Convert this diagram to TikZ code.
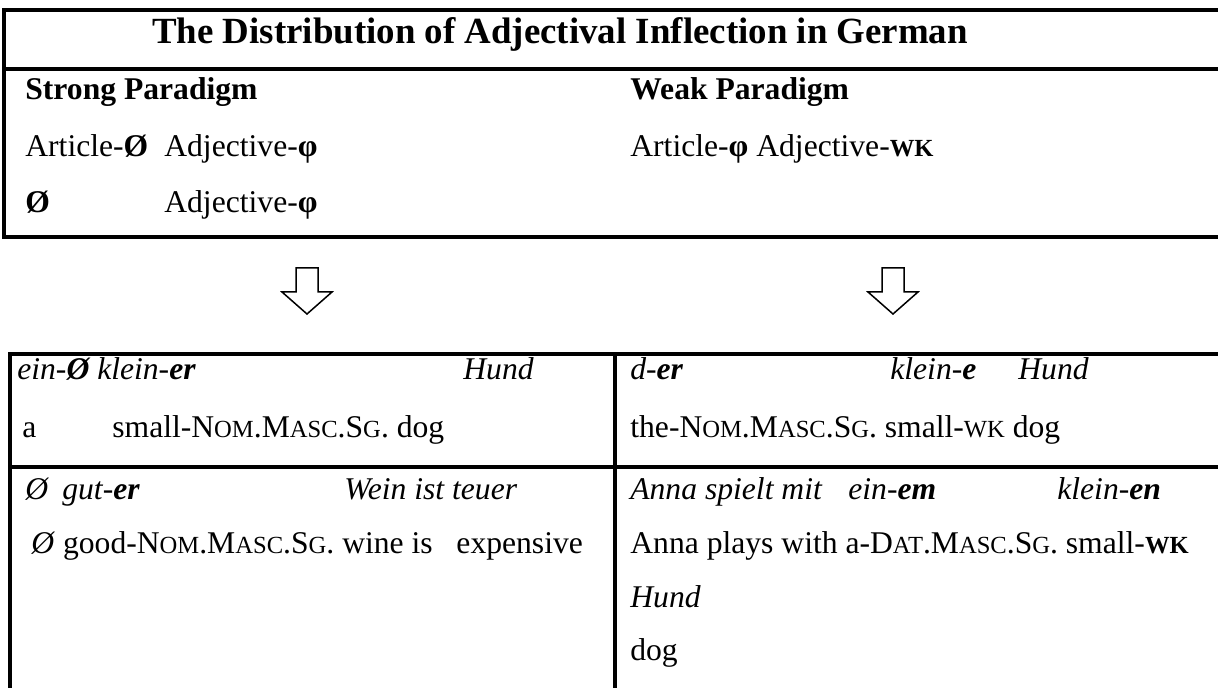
\documentclass[tikz,border=0pt]{standalone}
\usepackage{fontspec}
\setmainfont{Liberation Serif}
\newcommand{\smc}[1]{{\fontsize{14}{16}\selectfont #1}}
\begin{document}
\fontsize{18}{22}\selectfont
\begin{tikzpicture}[x=0.02cm,y=-0.02cm,
	cell/.style={anchor=base west,inner sep=0pt},
	rule/.style={line width=0.08cm,line join=miter},
	hollow/.style={line width=0.03cm,line join=miter}]
		% Set up the frame and the block arrows
		\clip (0,0) rectangle (1218,688);
		\newcommand{\blockarrow}[1]{\draw[hollow,shift={(#1,0)}] (-11,268) -- (11,268) -- (11,292) -- (25,292) -- (0,314) -- (-25,292) -- (-11,292) -- cycle;}

		% upper box
		\draw[rule] (1240,10) -- (4,10) -- (4,237) -- (1240,237);
		\draw[rule] (4,69) -- (1240,69);
		\node[anchor=base,inner sep=0pt,font=\fontsize{21}{25}\selectfont\bfseries] (title) at (560,44) {The Distribution of Adjectival Inflection in German};

		\node[cell,font=\bfseries] (strong) at (25,100) {Strong Paradigm};
		\node[cell] (strongart) at (25,157) {Article-\textbf{Ø}};
		\node[cell] (strongadj) at (164,157) {Adjective-\textbf{φ}};
		\node[cell] (nullart) at (25,213) {\textbf{Ø}};
		\node[cell] (nulladj) at (164,213) {Adjective-\textbf{φ}};
		\node[cell,font=\bfseries] (weak) at (630,100) {Weak Paradigm};
		\node[cell] (weakrow) at (630,157) {Article-\textbf{φ} Adjective-\textbf{\smc{WK}}};

		\blockarrow{307}
		\blockarrow{893}

		% lower table
		\draw[rule] (1240,354) -- (10,354) -- (10,700);
		\draw[rule] (10,467) -- (1240,467);
		\draw[rule] (615,354) -- (615,700);

		\node[cell] (exa) at (17,380) {\itshape ein-\textbf{Ø} klein-\textbf{er}};
		\node[cell] (exanoun) at (463,380) {\itshape Hund};
		\node[cell] (glaart) at (22,438) {a};
		\node[cell] (gla) at (112,438) {small-N\smc{OM}.M\smc{ASC}.S\smc{G}. dog};
		\node[cell] (exbnull) at (25,500) {\itshape Ø};
		\node[cell] (exb) at (62,500) {\itshape gut-\textbf{er}};
		\node[cell] (exbrest) at (344,500) {\itshape Wein ist teuer};
		\node[cell] (glb) at (31,554) {\textit{Ø} good-N\smc{OM}.M\smc{ASC}.S\smc{G}. wine is\ \ \ expensive};

		\node[cell] (exc) at (630,380) {\itshape d-\textbf{er}};
		\node[cell] (excadj) at (890,380) {\itshape klein-\textbf{e}};
		\node[cell] (excnoun) at (1018,380) {\itshape Hund};
		\node[cell] (glc) at (630,438) {the-N\smc{OM}.M\smc{ASC}.S\smc{G}. small-\smc{WK} dog};
		\node[cell] (exd) at (630,500) {\itshape Anna spielt mit};
		\node[cell] (exdart) at (848,500) {\itshape ein-\textbf{em}};
		\node[cell] (exdadj) at (1057,500) {\itshape klein-\textbf{en}};
		\node[cell] (gld) at (630,554) {Anna plays with a-D\smc{AT}.M\smc{ASC}.S\smc{G}. small-\textbf{\smc{WK}}};
		\node[cell] (exdnoun) at (630,608) {\itshape Hund};
		\node[cell] (gldnoun) at (630,661) {dog};
\end{tikzpicture}
\end{document}
